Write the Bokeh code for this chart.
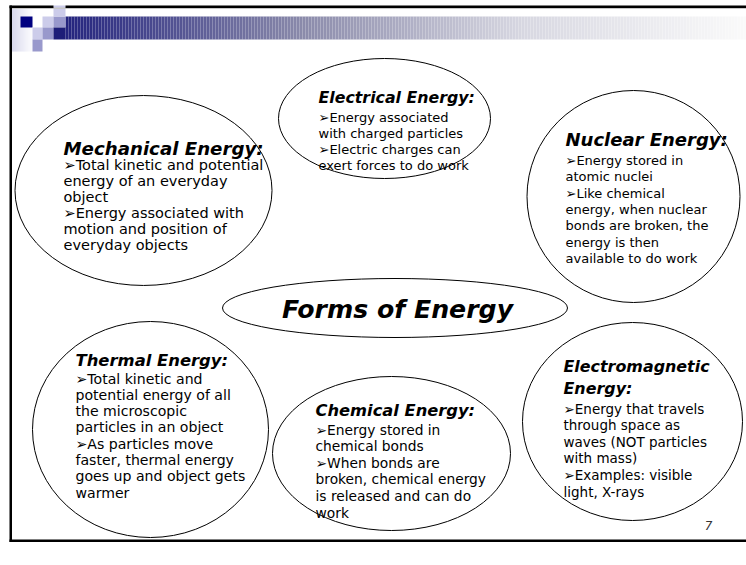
from bokeh.plotting import figure
from bokeh.models import Range1d
from bokeh.core.properties import value
from bokeh.embed import file_html
from bokeh.resources import INLINE

# ---------------- content ----------------
center_title = "Forms of Energy"
titles = ["Mechanical Energy:", "Electrical Energy:", "Nuclear Energy:",
          "Thermal Energy:", "Chemical Energy:", "Electromagnetic\nEnergy:"]
bodies = [
    ["➢Total kinetic and potential", "energy of an everyday", "object",
     "➢Energy associated with", "motion and position of", "everyday objects"],
    ["➢Energy associated", "with charged particles", "➢Electric charges can",
     "exert forces to do work"],
    ["➢Energy stored in", "atomic nuclei", "➢Like chemical", "energy, when nuclear",
     "bonds are broken, the", "energy is then", "available to do work"],
    ["➢Total kinetic and", "potential energy of all", "the microscopic",
     "particles in an object", "➢As particles move", "faster, thermal energy",
     "goes up and object gets", "warmer"],
    ["➢Energy stored in", "chemical bonds", "➢When bonds are",
     "broken, chemical energy", "is released and can do", "work"],
    ["➢Energy that travels", "through space as", "waves (NOT particles",
     "with mass)", "➢Examples: visible", "light, X-rays"],
]
page_number = "7"

# ---------------- layout (page pixels) ----------------
ell_x = [143, 384, 633, 150, 391, 632]
ell_y = [190, 118, 196, 429, 453, 421]
ell_w = [257, 212, 213, 236, 238, 220]
ell_h = [190, 120, 212, 216, 154, 198]
txt_x = [63, 318, 565, 75, 315, 563]
title_y = [148, 97, 139, 360, 410, 366]
body_y0 = [164, 117, 160, 378, 429, 408]
line_gap = [16.0, 16.0, 16.3, 16.3, 16.6, 16.6]
title_fs = [18.2, 15.8, 18.0, 16.4, 16.3, 15.9]
body_fs = [14.5, 13.0, 13.0, 14.1, 13.8, 13.5]

p = figure(width=746, height=565, x_range=Range1d(0, 746), y_range=Range1d(565, 0),
           output_backend="svg", toolbar_location=None,
           x_axis_location=None, y_axis_location=None, min_border=0)
p.grid.visible = False
p.outline_line_color = None
p.background_fill_color = "white"
p.border_fill_color = "white"

# ---- decoration: header gradient bar ----
def lerp(c0, c1, t):
    return tuple(int(round(a + (b - a) * t)) for a, b in zip(c0, c1))

stops = [(65, (36, 36, 126)), (300, (138, 138, 170)), (520, (215, 215, 225)), (746, (250, 250, 250))]
bl, br, bc = [], [], []
x = 65
while x < 746:
    for (x0, c0), (x1, c1) in zip(stops[:-1], stops[1:]):
        if x0 <= x < x1:
            c = lerp(c0, c1, (x - x0) / (x1 - x0))
    bl.append(x); br.append(min(x + 3, 746)); bc.append("#%02x%02x%02x" % c)
    x += 3
p.quad(left=bl, right=br, top=[16] * len(bl), bottom=[39] * len(bl), fill_color=bc, line_color=None)

# left pale gradient column
gl, gr, gc = [], [], []
for i in range(11, 33):
    t = (i - 11) / 22
    gl.append(i); gr.append(i + 1); gc.append("#%02x%02x%02x" % lerp((205, 205, 232), (255, 255, 255), t))
p.quad(left=gl, right=gr, top=[8] * len(gl), bottom=[51] * len(gl), fill_color=gc, line_color=None)

# squares
sq_l = [20, 42, 53, 53, 32, 42, 53, 32]
sq_r = [32, 53, 65, 65, 42, 53, 65, 42]
sq_t = [16, 16, 16, 5, 27, 27, 27, 39]
sq_b = [27, 27, 27, 16, 39, 39, 39, 51]
sq_c = ["#000080", "#ccccea", "#9999cc", "#ccccea", "#ccccea", "#9999cc", "#1e1e78", "#9999cc"]
p.quad(left=sq_l, right=sq_r, top=sq_t, bottom=sq_b, fill_color=sq_c, line_color=None)

# frame lines
p.quad(left=[9], right=[746], top=[7], bottom=[8.5], fill_color="#c8c8c8", line_color=None)
p.quad(left=[9, 9, 9], right=[53, 11.5, 746], top=[5, 5, 539], bottom=[7.5, 541.5, 541.5],
       fill_color="black", line_color=None)
p.quad(left=[65], right=[746], top=[5], bottom=[7.5], fill_color="black", line_color=None)

# ---- ellipses ----
p.ellipse(x=ell_x, y=ell_y, width=ell_w, height=ell_h, fill_color=None,
          line_color="black", line_width=1)
p.ellipse(x=[394.5], y=[307.5], width=[345], height=[59], fill_color=None,
          line_color="black", line_width=1)

# ---- texts ----
for i, t in enumerate(titles):
    parts = t.split("\n")
    p.text(x=[txt_x[i]] * len(parts), y=[title_y[i] + j * 22 for j in range(len(parts))], text=parts,
           text_font=value("DejaVu Sans"), text_font_size="%.1fpx" % title_fs[i],
           text_font_style="bold italic", text_baseline="middle", text_align="left", text_color="black")

for i, lines in enumerate(bodies):
    p.text(x=[txt_x[i]] * len(lines), y=[body_y0[i] + j * line_gap[i] for j in range(len(lines))],
           text=lines, text_font=value("DejaVu Sans"), text_font_size="%.1fpx" % body_fs[i],
           text_baseline="middle", text_align="left", text_color="black")

p.text(x=[397], y=[309], text=[center_title], text_font=value("DejaVu Sans"), text_font_size="25.2px",
       text_font_style="bold italic", text_baseline="middle", text_align="center", text_color="black")

p.text(x=[708], y=[525], text=[page_number], text_font=value("DejaVu Sans"), text_font_size="12px",
       text_font_style="italic", text_baseline="middle", text_align="center", text_color="#333333")

open("out.html", "w").write(file_html(p, INLINE))
